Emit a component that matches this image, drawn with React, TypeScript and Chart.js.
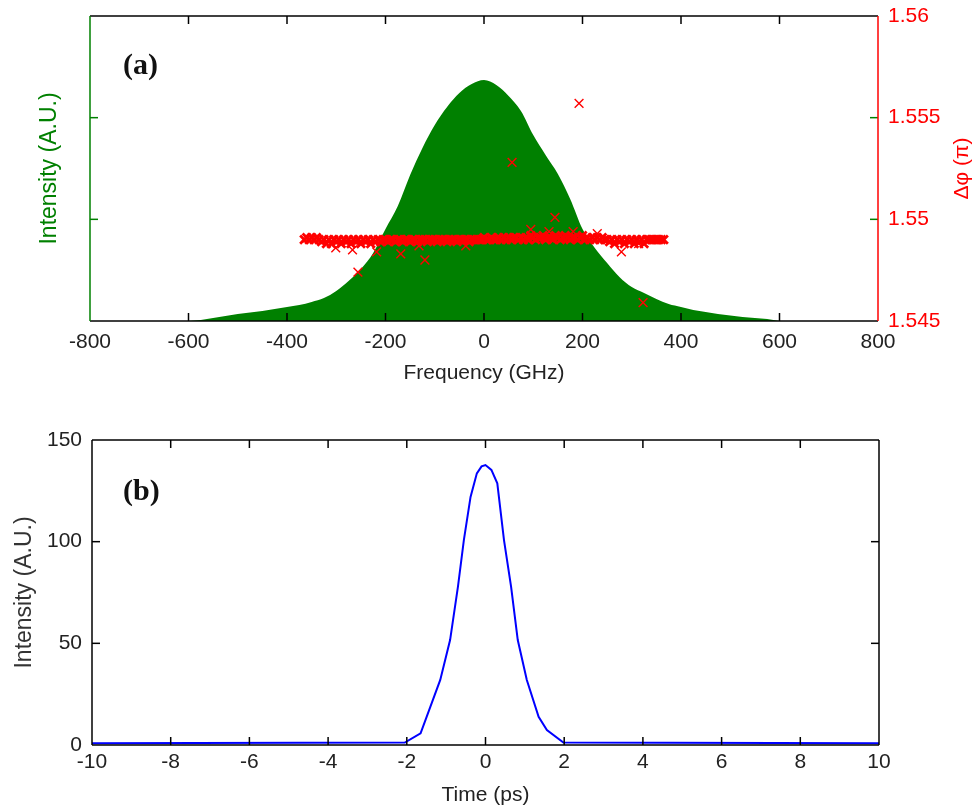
import { useEffect, useRef } from "react";
import { Chart, registerables } from "chart.js";

Chart.register(...registerables);

const FONT = '"Liberation Sans", Arial, Helvetica, sans-serif';
const SERIF = '"Liberation Serif", "Times New Roman", serif';
const GREEN = "rgb(0,128,0)";
const RED = "rgb(255,0,0)";
const BLUE = "rgb(0,0,255)";
const INK = "#222";

// (a) spectral intensity, arbitrary units
const spectrumFreq = [
  -600, -575, -550, -525, -500, -475, -450, -425, -400, -375, -350, -325, -300, -275, -250, -225, -200,
  -175, -150, -125, -100, -75, -50, -25, 0, 25, 50, 75, 100, 125, 150, 175, 200, 225, 250, 275, 300,
  325, 350, 375, 400, 425, 450, 475, 500, 525, 550, 575, 600,
];
const spectrumIntensity = [
  0, 0.01, 0.03, 0.05, 0.07, 0.084, 0.098, 0.118, 0.138, 0.157, 0.187, 0.226, 0.295, 0.393, 0.511, 0.669,
  0.905, 1.131, 1.436, 1.702, 1.928, 2.105, 2.243, 2.331, 2.37, 2.321, 2.213, 2.066, 1.829, 1.633, 1.446,
  1.2, 0.905, 0.718, 0.57, 0.433, 0.334, 0.275, 0.216, 0.167, 0.138, 0.108, 0.089, 0.069, 0.054, 0.039,
  0.03, 0.02, 0,
];

// (a) phase difference across the pulse bandwidth, in units of pi
const phaseFreq = [
  -365, -360, -355, -350, -345, -340, -335, -330, -325, -320,
  -315, -310, -305, -300, -295, -290, -285, -280, -275, -270,
  -265, -260, -255, -250, -245, -240, -235, -230, -225, -220,
  -215, -210, -205, -200, -195, -190, -185, -180, -175, -170,
  -165, -160, -155, -150, -145, -140, -135, -130, -125, -120,
  -115, -110, -105, -100, -95, -90, -85, -80, -75, -70,
  -65, -60, -55, -50, -45, -40, -35, -30, -25, -20,
  -15, -10, -5, 0, 5, 10, 15, 20, 25, 30,
  35, 40, 45, 50, 55, 60, 65, 70, 75, 80,
  85, 90, 95, 100, 105, 110, 115, 120, 125, 130,
  135, 140, 145, 150, 155, 160, 165, 170, 175, 180,
  185, 190, 195, 200, 205, 210, 215, 220, 225, 230,
  235, 240, 245, 250, 255, 260, 265, 270, 275, 280,
  285, 290, 295, 300, 305, 310, 315, 320, 325, 330,
  335, 340, 345, 350, 355, 360, 365,
];
const phaseValue = [
  1.549, 1.5491, 1.549, 1.5491, 1.549, 1.5491, 1.549, 1.5489, 1.549, 1.5488,
  1.549, 1.5488, 1.549, 1.5489, 1.549, 1.5488, 1.549, 1.5489, 1.549, 1.5488,
  1.549, 1.5489, 1.549, 1.5488, 1.549, 1.5489, 1.549, 1.5488, 1.549, 1.5489,
  1.549, 1.5489, 1.549, 1.549, 1.5489, 1.549, 1.549, 1.5489, 1.549, 1.549,
  1.5489, 1.549, 1.549, 1.5489, 1.549, 1.549, 1.5489, 1.549, 1.549, 1.549,
  1.5489, 1.549, 1.549, 1.549, 1.5489, 1.549, 1.549, 1.549, 1.5489, 1.549,
  1.549, 1.549, 1.5489, 1.549, 1.549, 1.549, 1.549, 1.5489, 1.549, 1.549,
  1.549, 1.549, 1.549, 1.5491, 1.549, 1.549, 1.5491, 1.549, 1.549, 1.5491,
  1.549, 1.5491, 1.549, 1.5491, 1.549, 1.5491, 1.5491, 1.549, 1.5491, 1.549,
  1.5491, 1.549, 1.5492, 1.5491, 1.549, 1.5491, 1.5491, 1.5492, 1.549, 1.5491,
  1.5491, 1.549, 1.5492, 1.5491, 1.549, 1.5491, 1.5492, 1.5491, 1.549, 1.5491,
  1.5491, 1.549, 1.5491, 1.5492, 1.549, 1.5491, 1.549, 1.5491, 1.549, 1.5491,
  1.549, 1.5491, 1.549, 1.549, 1.5489, 1.549, 1.5488, 1.549, 1.5489, 1.549,
  1.5488, 1.549, 1.5489, 1.549, 1.5488, 1.549, 1.5489, 1.549, 1.5488, 1.549,
  1.549, 1.549, 1.549, 1.549, 1.549, 1.549, 1.549,
];

// (a) isolated phase samples away from the main band
const strayFreq = [193, 57, 144, 95, 181, 132, 230, 279, 323, 314, -256, -218, -169, -120, -301, -267, -132, -37];
const strayPhase = [
  1.5557, 1.5528, 1.5501, 1.5495, 1.5494, 1.5494, 1.5493, 1.5484, 1.5459, 1.5488, 1.5474, 1.5484, 1.5483,
  1.548, 1.5486, 1.5485, 1.5487, 1.5487,
];

// (b) temporal intensity profile
const timePs = [-10, -2.05, -1.65, -1.4, -1.15, -0.9, -0.7, -0.55, -0.38, -0.22, -0.1, 0, 0.15, 0.3, 0.47, 0.65, 0.82, 1.05, 1.35, 1.56, 1.98, 10];
const pulseIntensity = [0.8, 1.2, 5.7, 18.9, 32, 51.6, 77.9, 100.8, 122, 133.6, 137, 137.7, 135.3, 128.7, 100.8, 77.9, 51.6, 32, 13.9, 7.4, 1.2, 0.8];

const pairs = (xs: number[], ys: number[]) => xs.map((x, i) => ({ x, y: ys[i] }));

type FrameOptions = {
  yScale: string;
  edges: { top: string; bottom: string; left: string; right: string };
  xTickColor: string;
  yTickColor: string;
  panel: string;
  panelDx: number;
  panelDy: number;
  sideTitle?: { text: string; color: string; x: number };
};

// Box outline with inward ticks on all four sides, plus the panel tag
const framePlugin = {
  id: "frame",
  afterDatasetsDraw(chart: any, _args: any, opts: FrameOptions) {
    const { ctx, chartArea: a, scales } = chart;
    const xs = scales.x;
    const ys = scales[opts.yScale];
    const L = 8;
    ctx.save();
    ctx.lineWidth = 1.5;
    const seg = (x1: number, y1: number, x2: number, y2: number, c: string) => {
      ctx.strokeStyle = c;
      ctx.beginPath();
      ctx.moveTo(x1, y1);
      ctx.lineTo(x2, y2);
      ctx.stroke();
    };
    xs.ticks.forEach((t: any) => {
      if (t.value <= xs.min || t.value >= xs.max) return;
      const px = xs.getPixelForValue(t.value);
      seg(px, a.bottom, px, a.bottom - L, opts.xTickColor);
      seg(px, a.top, px, a.top + L, opts.xTickColor);
    });
    ys.ticks.forEach((t: any) => {
      if (t.value <= ys.min || t.value >= ys.max) return;
      const py = ys.getPixelForValue(t.value);
      seg(a.left, py, a.left + L, py, opts.yTickColor);
      seg(a.right, py, a.right - L, py, opts.yTickColor);
    });
    seg(a.left, a.top, a.right, a.top, opts.edges.top);
    seg(a.left, a.bottom, a.right, a.bottom, opts.edges.bottom);
    seg(a.left, a.top, a.left, a.bottom, opts.edges.left);
    seg(a.right, a.top, a.right, a.bottom, opts.edges.right);

    ctx.fillStyle = "#111";
    ctx.font = `bold 30px ${SERIF}`;
    ctx.textAlign = "left";
    ctx.textBaseline = "middle";
    ctx.fillText(opts.panel, a.left + opts.panelDx, a.top + opts.panelDy);

    if (opts.sideTitle) {
      ctx.save();
      ctx.translate(opts.sideTitle.x, (a.top + a.bottom) / 2);
      ctx.rotate(-Math.PI / 2);
      ctx.fillStyle = opts.sideTitle.color;
      ctx.font = `21px ${FONT}`;
      ctx.textAlign = "center";
      ctx.textBaseline = "middle";
      ctx.fillText(opts.sideTitle.text, 0, 0);
      ctx.restore();
    }
    ctx.restore();
  },
};

const tickFont = { family: FONT, size: 21 };
const titleFont = { family: FONT, size: 21 };
const sideFont = { family: FONT, size: 23 };

// Fixed axis thickness; label overhang must not shrink the plot box
const fixWidth = (w: number) => (s: any) => {
  s.width = w;
  s.paddingTop = 0;
  s.paddingBottom = 0;
};
const fixHeight = (h: number) => (s: any) => {
  s.height = h;
  s.paddingLeft = 0;
  s.paddingRight = 0;
};

function SpectrumChart() {
  const ref = useRef<HTMLCanvasElement>(null);
  useEffect(() => {
    if (!ref.current) return;
    const chart = new Chart(ref.current, {
      type: "scatter",
      data: {
        datasets: [
          {
            type: "scatter",
            data: pairs(strayFreq, strayPhase),
            yAxisID: "yP",
            pointStyle: "crossRot",
            pointRadius: 6.2,
            pointBorderWidth: 1.4,
            borderColor: RED,
            backgroundColor: RED,
            order: 0,
          },
          {
            type: "scatter",
            data: pairs(phaseFreq, phaseValue),
            yAxisID: "yP",
            pointStyle: "crossRot",
            pointRadius: 5.8,
            pointBorderWidth: 2.8,
            borderColor: RED,
            backgroundColor: RED,
            order: 1,
          },
          {
            type: "line",
            data: pairs(spectrumFreq, spectrumIntensity),
            yAxisID: "yI",
            fill: "origin",
            backgroundColor: GREEN,
            borderColor: GREEN,
            borderWidth: 0,
            pointRadius: 0,
            cubicInterpolationMode: "monotone",
            order: 2,
          },
        ],
      },
      options: {
        responsive: false,
        animation: false,
        events: [],
        layout: { padding: { top: 16, left: 0, right: 0, bottom: 0 } },
        plugins: {
          legend: { display: false },
          tooltip: { enabled: false },
          frame: {
            yScale: "yI",
            edges: { top: "#000", bottom: "#000", left: GREEN, right: RED },
            xTickColor: "#000",
            yTickColor: GREEN,
            panel: "(a)",
            panelDx: 33,
            panelDy: 50,
            sideTitle: { text: "Δφ (π)", color: RED, x: 962 },
          },
        } as any,
        scales: {
          x: {
            type: "linear",
            min: -800,
            max: 800,
            ticks: { stepSize: 200, font: tickFont, color: INK, padding: 9, maxRotation: 0 },
            grid: { display: false, drawTicks: false },
            border: { display: false },
            title: { display: true, text: "Frequency (GHz)", font: titleFont, color: INK, padding: { top: 0, bottom: 9 } },
            afterFit: fixHeight(74),
          },
          yI: {
            type: "linear",
            position: "left",
            min: 0,
            max: 3,
            ticks: { stepSize: 1, display: false },
            grid: { display: false, drawTicks: false },
            border: { display: false },
            title: { display: true, text: "Intensity (A.U.)", font: sideFont, color: GREEN, padding: { top: 36, bottom: 0 } },
            afterFit: fixWidth(90),
          },
          yP: {
            type: "linear",
            position: "right",
            min: 1.545,
            max: 1.56,
            ticks: {
              stepSize: 0.005,
              font: tickFont,
              color: RED,
              padding: 10,
              callback: (v: any) => String(Number(Number(v).toFixed(3))),
            },
            grid: { display: false, drawTicks: false },
            border: { display: false },
            afterFit: fixWidth(100),
          },
        },
      },
      plugins: [framePlugin as any],
    });
    return () => chart.destroy();
  }, []);
  return <canvas ref={ref} width={978} height={395} style={{ position: "absolute", left: 0, top: 0 }} />;
}

function PulseChart() {
  const ref = useRef<HTMLCanvasElement>(null);
  useEffect(() => {
    if (!ref.current) return;
    const chart = new Chart(ref.current, {
      type: "line",
      data: {
        datasets: [
          {
            data: pairs(timePs, pulseIntensity),
            borderColor: BLUE,
            borderWidth: 2,
            pointRadius: 0,
            tension: 0,
            fill: false,
          },
        ],
      },
      options: {
        responsive: false,
        animation: false,
        events: [],
        layout: { padding: { top: 45, left: 0, right: 99, bottom: 0 } },
        plugins: {
          legend: { display: false },
          tooltip: { enabled: false },
          frame: {
            yScale: "y",
            edges: { top: "#000", bottom: "#000", left: "#000", right: "#000" },
            xTickColor: "#000",
            yTickColor: "#000",
            panel: "(b)",
            panelDx: 31,
            panelDy: 52,
          },
        } as any,
        scales: {
          x: {
            type: "linear",
            min: -10,
            max: 10,
            ticks: { stepSize: 2, font: tickFont, color: INK, padding: 5, maxRotation: 0 },
            grid: { display: false, drawTicks: false },
            border: { display: false },
            title: { display: true, text: "Time (ps)", font: titleFont, color: INK, padding: { top: 0, bottom: 4 } },
            afterFit: fixHeight(67),
          },
          y: {
            type: "linear",
            position: "left",
            min: 0,
            max: 150,
            ticks: { stepSize: 50, font: tickFont, color: INK, padding: 10 },
            grid: { display: false, drawTicks: false },
            border: { display: false },
            title: { display: true, text: "Intensity (A.U.)", font: sideFont, color: "#333", padding: { top: 11, bottom: 0 } },
            afterFit: fixWidth(92),
          },
        },
      },
      plugins: [framePlugin as any],
    });
    return () => chart.destroy();
  }, []);
  return <canvas ref={ref} width={978} height={417} style={{ position: "absolute", left: 0, top: 395 }} />;
}

export default function App() {
  return (
    <div style={{ position: "fixed", left: 0, top: 0, width: 978, height: 812, background: "#fff", overflow: "hidden" }}>
      <SpectrumChart />
      <PulseChart />
    </div>
  );
}
